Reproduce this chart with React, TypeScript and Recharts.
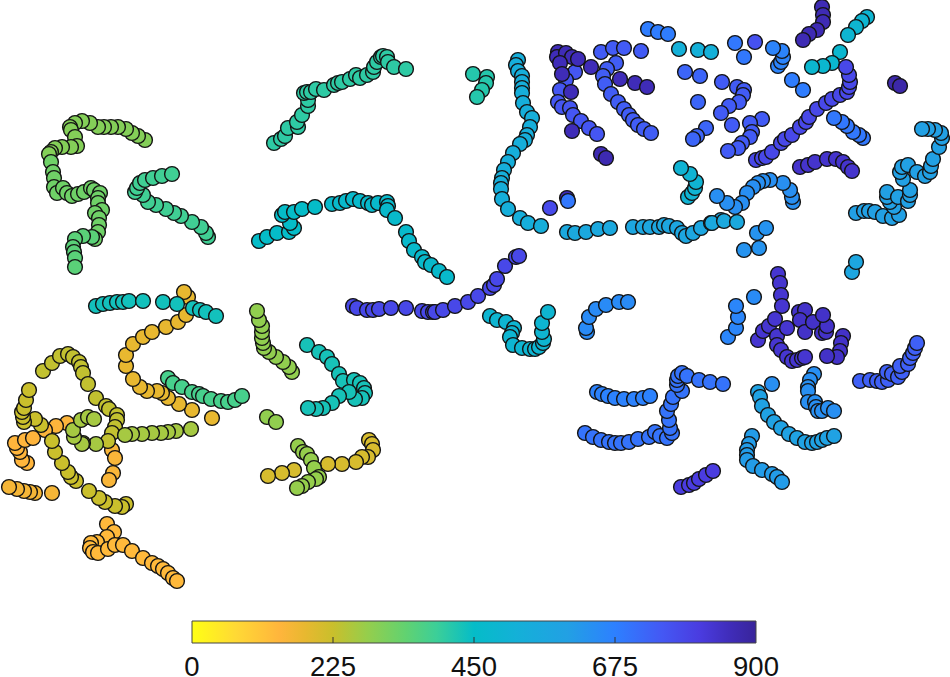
import { Bar, BarChart, Scatter, ScatterChart, XAxis, YAxis } from 'recharts'

type Pt = number[]

// colour scale, [value, colour]
const colorStops: [number, string][] = [
  [0, '#ffff14'],
  [70, '#ffd935'],
  [140, '#ffb53c'],
  [180, '#e8b830'],
  [225, '#c9bf2c'],
  [280, '#95ce4c'],
  [340, '#62d270'],
  [390, '#3ccf98'],
  [450, '#05bcc8'],
  [520, '#14b0d8'],
  [600, '#22a0e4'],
  [675, '#2d80ff'],
  [750, '#4458f4'],
  [810, '#4a3ce0'],
  [860, '#3f2cb8'],
  [900, '#38249a'],
]
const colorTicks = [0, 225, 450, 675, 900]

const orangeArm: Pt[] = [[107, 524], [114, 532], [107, 537], [97, 542], [91, 543], [90, 548], [93, 552], [98, 553], [108, 549], [115, 545], [123, 545], [132, 551], [143, 558], [152, 563], [158, 566], [163, 569], [168, 573], [173, 578], [177, 581]]
const orangeRow: Pt[] = [[52, 493], [35, 493], [30, 492], [24, 491], [17, 489], [9, 487]]
const orangeLeft: Pt[] = [[27, 463], [22, 460], [20, 452], [17, 448], [15, 443], [25, 440], [33, 438]]
const orangeMid: Pt[] = [[67, 423], [56, 426], [45, 430]]
const orangeDrop: Pt[] = [[112, 450], [115, 458], [113, 473], [109, 480]]
const goldCurve: Pt[] = [[212, 418], [192, 410], [179, 404], [168, 398], [162, 393], [157, 391], [147, 391], [140, 387], [133, 379], [126, 366], [126, 355], [133, 344], [143, 337], [152, 332], [166, 327], [178, 322], [186, 315], [188, 297], [184, 292]]
const goldBottom: Pt[] = [[369, 440], [372, 444], [373, 450], [368, 457], [362, 457], [356, 462], [342, 464], [328, 464], [294, 470], [282, 473], [268, 476]]
const oliveUpper: Pt[] = [[43, 371], [52, 363], [60, 356], [68, 354], [73, 357], [79, 362], [81, 367], [83, 373], [88, 384], [96, 398], [106, 406], [109, 409], [117, 415], [117, 420], [115, 427], [112, 433], [108, 441]]
const oliveLower: Pt[] = [[126, 504], [122, 507], [115, 506], [105, 502], [99, 498], [89, 491], [76, 481], [71, 477], [68, 472], [62, 463], [55, 452], [52, 441], [41, 425], [35, 419], [24, 422], [23, 417], [22, 412], [24, 408], [26, 400], [29, 390]]
const limeLoop: Pt[] = [[191, 429], [176, 431], [168, 432], [161, 433], [152, 433], [142, 434], [132, 434], [125, 435], [96, 444], [83, 443], [82, 444], [74, 437], [73, 430], [81, 420], [88, 417], [94, 419]]
const limeStem: Pt[] = [[292, 372], [289, 367], [283, 362], [276, 357], [269, 352], [264, 348], [263, 343], [262, 338], [262, 332], [262, 326], [259, 320], [257, 311]]
const limePair: Pt[] = [[267, 417], [276, 422]]
const limeBottom: Pt[] = [[298, 446], [303, 452], [307, 454], [311, 460], [314, 468], [319, 477], [316, 479], [308, 482], [302, 486], [297, 488]]
const greenTop: Pt[] = [[145, 140], [138, 136], [132, 133], [126, 129], [118, 127], [111, 127], [104, 127], [98, 127], [90, 123], [82, 121], [75, 123], [70, 127], [71, 130], [75, 137], [77, 146], [71, 147], [62, 147], [55, 148], [51, 152], [49, 154]]
const greenMid: Pt[] = [[51, 162], [53, 172], [54, 178], [54, 187], [57, 193], [63, 188], [67, 193], [72, 196], [78, 194], [84, 192], [91, 188], [94, 190], [100, 193], [98, 198], [98, 203], [102, 210], [95, 213], [99, 218], [99, 225], [98, 232], [95, 239]]
const greenEnd: Pt[] = [[92, 237], [83, 236], [75, 239], [73, 247], [74, 252], [75, 258], [75, 267]]
const greenLong: Pt[] = [[168, 378], [173, 383], [182, 387], [192, 392], [199, 394], [203, 396], [211, 399], [221, 401], [228, 402], [235, 400], [242, 396]]
const greenHook: Pt[] = [[208, 237], [206, 233], [201, 227], [192, 222], [181, 216], [174, 213], [166, 209], [156, 205], [148, 202], [143, 195], [135, 192], [137, 188], [140, 183], [145, 180], [153, 178], [162, 176], [172, 174]]
const jadeRidge: Pt[] = [[274, 143], [281, 139], [285, 136], [288, 128], [298, 127], [297, 122], [302, 115], [308, 106], [308, 100], [304, 93], [307, 92], [311, 92], [316, 89], [324, 90], [334, 85], [338, 83], [342, 82], [350, 79], [356, 75], [360, 78], [367, 75], [373, 72], [374, 67], [377, 62], [381, 57], [383, 56], [387, 57], [388, 62], [394, 67], [406, 69]]
const jadeSmall: Pt[] = [[473, 74], [487, 77], [486, 83], [482, 90], [477, 97]]
const tealTop: Pt[] = [[96, 306], [103, 304], [110, 303], [117, 302], [123, 302], [129, 301], [143, 301], [163, 302], [177, 304], [193, 308], [200, 310], [206, 312], [216, 316]]
const tealHook: Pt[] = [[307, 345], [319, 352], [327, 357], [332, 364], [339, 374], [343, 381], [354, 380], [360, 383], [364, 388], [365, 393], [362, 398], [355, 399], [349, 392], [339, 396], [332, 403], [323, 408], [316, 409], [308, 408]]
const tealLeft: Pt[] = [[259, 241], [267, 237], [277, 233], [289, 232], [294, 228], [290, 223], [282, 215], [285, 212], [294, 212], [302, 209], [315, 207]]
const tealArc: Pt[] = [[332, 204], [340, 203], [346, 201], [353, 199], [360, 201], [368, 203], [372, 205], [378, 203], [387, 202], [388, 206], [387, 210], [395, 218], [406, 232], [409, 241], [414, 250], [422, 257], [425, 262], [431, 265], [439, 271], [447, 277]]
const cyanCup: Pt[] = [[490, 316], [497, 320], [506, 322], [514, 328], [512, 333], [510, 337], [513, 345], [522, 348], [530, 349], [535, 349], [539, 347], [543, 343], [544, 339], [542, 332], [542, 323], [548, 312]]
const cyanFall: Pt[] = [[518, 60], [516, 65], [518, 71], [522, 76], [522, 82], [522, 88], [522, 93], [523, 103], [527, 112], [532, 118], [530, 127], [527, 135], [525, 140], [520, 144], [513, 153], [508, 162], [504, 170], [502, 178], [501, 183], [501, 189], [502, 199], [508, 209], [520, 218], [528, 223], [541, 226]]
const cyanShort: Pt[] = [[688, 197], [692, 193], [695, 188], [696, 182], [690, 174], [681, 168]]
const cyanUpperRight: Pt[] = [[867, 17], [862, 21], [856, 27], [848, 35]]
const cyanBend: Pt[] = [[840, 52], [832, 63], [823, 66], [812, 67]]
const cyanTriple: Pt[] = [[679, 49], [698, 50], [711, 52]]
const skyRow: Pt[] = [[567, 232], [575, 233], [586, 232], [598, 229], [610, 228]]
const skyValley: Pt[] = [[633, 227], [643, 227], [650, 227], [659, 227], [664, 225], [669, 226], [677, 228], [682, 233], [686, 236], [693, 233], [701, 228], [711, 223], [721, 220]]
const skyTriple: Pt[] = [[712, 223], [724, 221], [737, 222]]
const skyPair: Pt[] = [[852, 272], [856, 262]]
const skyCluster: Pt[] = [[856, 213], [864, 211], [869, 211], [875, 212], [883, 216], [892, 218], [899, 215], [894, 207], [890, 202], [887, 197], [887, 192], [898, 197], [908, 201], [910, 195], [910, 190], [903, 179], [900, 172], [902, 167], [908, 165], [917, 172], [925, 176], [930, 172], [931, 166], [933, 159], [939, 147], [942, 138], [941, 133], [935, 130], [928, 129], [922, 129]]
const skyBowl: Pt[] = [[758, 392], [760, 397], [762, 406], [768, 415], [774, 422], [781, 428], [789, 434], [797, 438], [805, 442], [812, 443], [817, 442], [822, 440], [827, 438], [834, 436]]
const skyHook: Pt[] = [[752, 436], [749, 444], [747, 450], [747, 455], [747, 460], [753, 466], [762, 470], [772, 474], [777, 477], [782, 482]]
const azureQuad: Pt[] = [[744, 250], [759, 248], [757, 233], [766, 228]]
const azureCurl: Pt[] = [[793, 202], [792, 197], [790, 190], [783, 183], [770, 180], [763, 181], [758, 183], [753, 187], [747, 193], [742, 203], [735, 207], [727, 203], [717, 196]]
const azureStack: Pt[] = [[814, 374], [810, 380], [808, 387], [808, 391], [808, 402], [815, 402], [816, 407], [818, 411], [822, 411], [828, 408], [834, 411]]
const azureDot: Pt[] = [[772, 384]]
const blueArc: Pt[] = [[587, 332], [586, 328], [589, 317], [596, 309], [606, 305], [619, 302], [628, 302]]
const blueStem: Pt[] = [[728, 337], [736, 328], [738, 317], [736, 306]]
const blueDot: Pt[] = [[754, 297]]
const blueFour: Pt[] = [[778, 66], [781, 62], [783, 57], [782, 51], [773, 48]]
const blueTop: Pt[] = [[648, 29], [658, 32], [668, 34]]
const blueDuo: Pt[] = [[735, 43], [744, 57]]
const blueRamp: Pt[] = [[792, 80], [803, 90]]
const blueTail: Pt[] = [[863, 138], [859, 135], [853, 132], [847, 126], [842, 122], [834, 118]]
const blueRow: Pt[] = [[597, 392], [602, 394], [608, 396], [615, 398], [624, 399], [634, 399], [643, 398], [650, 396]]
const blueStep: Pt[] = [[585, 433], [593, 437], [601, 440], [609, 442], [615, 443], [621, 443], [629, 442], [638, 439], [649, 437], [655, 432], [660, 436], [667, 438], [672, 433], [670, 428], [669, 420], [667, 411], [671, 404], [673, 397], [682, 391], [677, 385], [677, 380], [678, 376], [682, 373], [687, 376], [699, 380], [710, 382], [723, 384]]
const indigoDark: Pt[] = [[567, 198]]
const blueSingle: Pt[] = [[568, 201]]
const periwinkleSingles: Pt[] = [[685, 72], [700, 76], [698, 102], [706, 128], [697, 136], [693, 139]]
const periwinkleBranch: Pt[] = [[601, 52], [613, 48], [624, 48], [641, 51]]
const periwinkleDiag: Pt[] = [[616, 63], [607, 69], [603, 76], [605, 84], [611, 94], [618, 102], [624, 109], [629, 115], [633, 120], [638, 125], [644, 129], [651, 133]]
const periwinkleLeft: Pt[] = [[575, 72], [566, 80], [560, 90], [558, 102], [562, 107], [570, 108], [573, 115], [581, 121], [589, 128], [597, 134]]
const periwinkleNet: Pt[] = [[722, 82], [737, 87], [744, 90], [743, 95], [739, 102], [729, 106], [721, 113], [732, 125], [762, 119], [750, 123], [752, 132], [750, 137], [742, 143], [738, 148], [728, 151]]
const periwinkleSmall: Pt[] = [[755, 42]]
const arcRight: Pt[] = [[860, 381], [870, 380], [877, 381], [882, 382], [888, 380], [887, 372], [892, 374], [898, 377], [902, 372], [900, 366], [908, 364], [910, 358], [913, 353], [915, 348], [917, 343]]
const violetSingle: Pt[] = [[550, 208]]
const violetLong: Pt[] = [[353, 306], [357, 308], [367, 310], [373, 310], [379, 309], [391, 308], [406, 308], [422, 311], [428, 312], [433, 312], [435, 312], [443, 310], [455, 306], [468, 302], [478, 296], [490, 288], [494, 285], [497, 279], [505, 266], [516, 257], [519, 256]]
const violetDiag: Pt[] = [[756, 160], [762, 158], [766, 157], [772, 152], [781, 143], [785, 139], [792, 135], [800, 127], [806, 122], [809, 117], [817, 109], [826, 103], [832, 99], [840, 95], [847, 92], [849, 87], [850, 82], [849, 75], [846, 67]]
const violetBottom: Pt[] = [[681, 487], [689, 485], [694, 483], [699, 479], [706, 475], [713, 471]]
const purpleSwirl: Pt[] = [[778, 274], [780, 283], [781, 295], [782, 306], [758, 340], [763, 331], [769, 326], [775, 319], [777, 336], [777, 345], [781, 350], [787, 357], [792, 361], [797, 360], [802, 358], [805, 357], [787, 328]]
const purpleRing: Pt[] = [[799, 312], [805, 310], [800, 320], [805, 332], [813, 322], [822, 333], [826, 332], [827, 326], [823, 315], [843, 336], [841, 343], [840, 351], [837, 357], [827, 356]]
const purpleArc: Pt[] = [[800, 167], [808, 165], [815, 162], [827, 159], [836, 159], [843, 162], [848, 167], [852, 171]]
const deepClusterA: Pt[] = [[558, 52], [557, 57], [566, 53], [572, 57], [578, 59], [560, 63], [562, 74], [591, 67], [571, 92], [572, 131]]
const deepTriple: Pt[] = [[620, 79], [635, 83], [647, 87]]
const deepPairA: Pt[] = [[601, 154], [606, 158]]
const deepPairB: Pt[] = [[895, 83], [900, 86]]
const deepTop: Pt[] = [[822, 7], [823, 15], [823, 22], [817, 30], [809, 34], [803, 40]]

// drawn in this order, later ones on top
const trails: [Pt[], number][] = [
  [orangeDrop, 150],
  [orangeRow, 158],
  [orangeLeft, 140],
  [orangeMid, 145],
  [orangeArm, 132],
  [goldCurve, 180],
  [goldBottom, 205],
  [oliveUpper, 232],
  [oliveLower, 224],
  [limeLoop, 262],
  [limeStem, 285],
  [limePair, 285],
  [limeBottom, 280],
  [greenTop, 300],
  [greenMid, 325],
  [greenEnd, 350],
  [tealTop, 435],
  [greenLong, 375],
  [greenHook, 385],
  [jadeRidge, 405],
  [jadeSmall, 415],
  [tealHook, 430],
  [tealLeft, 450],
  [tealArc, 465],
  [cyanCup, 490],
  [cyanFall, 530],
  [cyanShort, 500],
  [cyanUpperRight, 490],
  [cyanBend, 480],
  [cyanTriple, 520],
  [skyRow, 560],
  [skyValley, 570],
  [skyTriple, 560],
  [skyPair, 570],
  [skyCluster, 600],
  [skyBowl, 590],
  [skyHook, 610],
  [azureQuad, 630],
  [azureCurl, 640],
  [azureStack, 640],
  [azureDot, 640],
  [blueArc, 650],
  [blueStem, 660],
  [blueDot, 650],
  [blueFour, 665],
  [blueTop, 680],
  [blueDuo, 690],
  [blueRamp, 680],
  [blueTail, 690],
  [blueRow, 670],
  [blueStep, 700],
  [indigoDark, 860],
  [blueSingle, 690],
  [periwinkleSingles, 725],
  [periwinkleBranch, 745],
  [periwinkleDiag, 740],
  [periwinkleLeft, 755],
  [periwinkleNet, 745],
  [periwinkleSmall, 765],
  [arcRight, 735],
  [violetSingle, 780],
  [violetLong, 785],
  [violetDiag, 785],
  [violetBottom, 810],
  [purpleSwirl, 830],
  [purpleRing, 840],
  [purpleArc, 835],
  [deepClusterA, 860],
  [deepTriple, 860],
  [deepPairA, 870],
  [deepPairB, 880],
  [deepTop, 865],
]

const hexToRgb = (hex: string) => [1, 3, 5].map(i => parseInt(hex.slice(i, i + 2), 16))

const colorOf = (value: number) => {
  for (let i = 1; i < colorStops.length; i++) {
    const [v0, c0] = colorStops[i - 1]
    const [v1, c1] = colorStops[i]
    if (value <= v1) {
      const t = (value - v0) / (v1 - v0)
      const a = hexToRgb(c0)
      const b = hexToRgb(c1)
      return `rgb(${a.map((n, k) => Math.round(n + (b[k] - n) * t)).join(',')})`
    }
  }
  return colorStops[colorStops.length - 1][1]
}

const Marker = ({ cx, cy, fill }: any) => (
  <circle cx={cx} cy={cy} r={7.4} fill={fill} stroke="#141414" strokeWidth={1.4} />
)

const ColorTick = ({ x, y, payload }: any) => (
  <g>
    {payload.value > 0 && payload.value < 900 && (
      <line x1={x} x2={x} y1={y - 6} y2={y} stroke="#333" strokeWidth={1} />
    )}
    <text x={x} y={y + 33} textAnchor="middle" fontFamily="'Liberation Sans', Arial, sans-serif" fontSize={27.5} fill="#111">
      {payload.value}
    </text>
  </g>
)

export default function App() {
  return (
    <div style={{ position: 'absolute', left: 0, top: 0, width: 950, height: 677, background: '#fff', overflow: 'hidden' }}>
      <div style={{ position: 'absolute', left: 0, top: 0 }}>
        <ScatterChart width={950} height={677} margin={{ top: 0, right: 0, bottom: 0, left: 0 }}>
          <XAxis type="number" dataKey="x" domain={[0, 950]} hide />
          <YAxis type="number" dataKey="y" domain={[0, 677]} reversed hide />
          {trails.map(([points, value], i) => (
            <Scatter
              key={i}
              data={points.map(([x, y]) => ({ x, y }))}
              fill={colorOf(value)}
              shape={<Marker />}
              isAnimationActive={false}
            />
          ))}
        </ScatterChart>
      </div>
      <div style={{ position: 'absolute', left: 142, top: 620 }}>
        <BarChart
          width={664}
          height={66}
          data={[{ name: 'colour', max: 900 }]}
          layout="vertical"
          barCategoryGap={0}
          margin={{ top: 1, right: 50, bottom: 0, left: 50 }}
        >
          <defs>
            <linearGradient id="colorScale" x1="0" x2="1" y1="0" y2="0">
              {colorStops.map(([v, c]) => (
                <stop key={v} offset={v / 900} stopColor={c} />
              ))}
            </linearGradient>
          </defs>
          <XAxis
            type="number"
            domain={[0, 900]}
            ticks={colorTicks}
            interval={0}
            height={43}
            axisLine={false}
            tickLine={false}
            tickSize={0}
            tickMargin={0}
            tick={<ColorTick />}
          />
          <YAxis type="category" dataKey="name" hide />
          <Bar dataKey="max" fill="url(#colorScale)" stroke="#444" strokeWidth={1} isAnimationActive={false} />
        </BarChart>
      </div>
    </div>
  )
}
